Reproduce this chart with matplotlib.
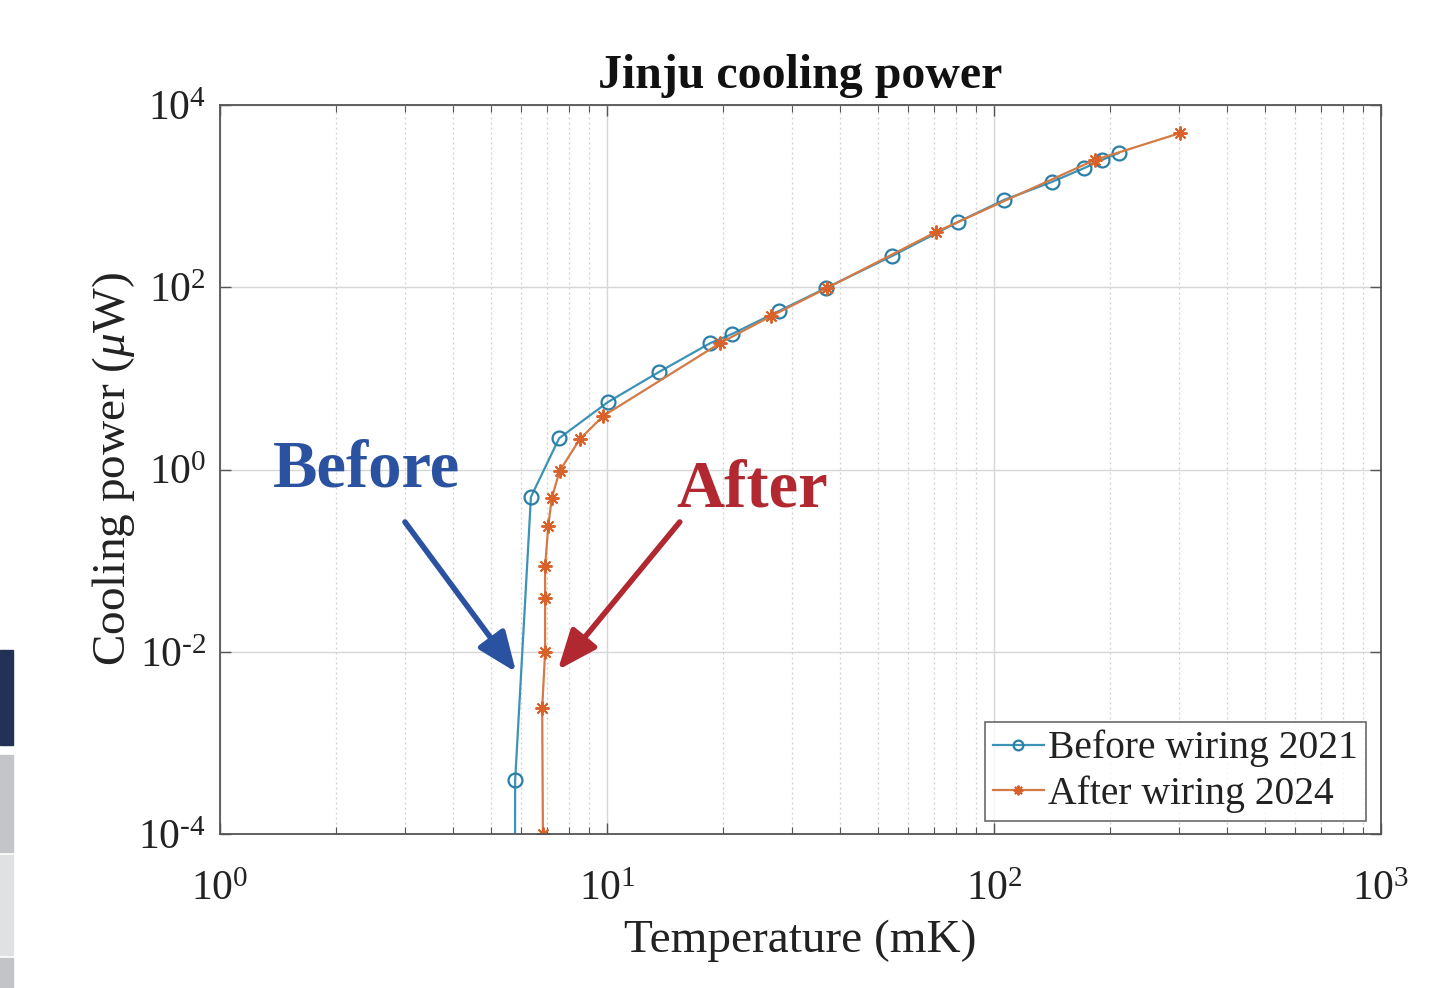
import matplotlib
matplotlib.use("Agg")
import matplotlib.pyplot as plt
from matplotlib.patches import Rectangle
from matplotlib.ticker import LogLocator, NullFormatter, NullLocator, FuncFormatter, FixedLocator
import numpy as np

plt.rcParams['font.family'] = ['Liberation Serif', 'DejaVu Serif']
plt.rcParams['mathtext.fontset'] = 'custom'
plt.rcParams['mathtext.rm'] = 'Liberation Serif'
plt.rcParams['mathtext.it'] = 'Liberation Serif:italic'
plt.rcParams['mathtext.bf'] = 'Liberation Serif:bold'
plt.rcParams['axes.unicode_minus'] = False

# Data (Temperature in mK, cooling power in uW)
before_T = [5.78, 5.79, 6.36, 7.52, 10.06, 13.6, 18.5, 21.0, 27.8, 36.8, 54.5, 80.7, 106, 141, 171, 190, 210]
before_P = [1e-5, 3.9e-4, 0.50, 2.2, 5.5, 11.7, 24.4, 30.6, 54.8, 98, 220, 520, 906, 1430, 2030, 2490, 2970]
after_T = [6.83, 6.80, 6.92, 6.92, 6.92, 7.05, 7.20, 7.54, 8.51, 9.77, 19.6, 26.5, 37.0, 70.8, 182, 303]
after_P = [1e-4, 2.4e-3, 0.01, 0.0387, 0.087, 0.239, 0.485, 0.96, 2.16, 3.86, 24.4, 48, 98, 404, 2490, 4930]

x_ticks = [1, 10, 100, 1000]
y_ticks = [1e-4, 1e-2, 1, 1e2, 1e4]

before_label = "Before wiring 2021"
after_label = "After wiring 2024"
title = "Jinju cooling power"
xlabel = "Temperature (mK)"
ylabel = r"Cooling power ($\mu$W)"

c_before = '#3c93b6'
c_after = '#d47a45'


def pow_fmt(v, pos):
    e = int(round(np.log10(v)))
    if e < 0:
        return r'$\mathdefault{10^{\text{-}%d}}$' % (-e)
    return r'$\mathdefault{10^{%d}}$' % e


fig = plt.figure(figsize=(14.39, 9.88), dpi=100)
ax = fig.add_axes([220/1439, 1-834/988, (1381-220)/1439, (834-105)/988])

ax.plot(before_T, before_P, color=c_before, lw=1.6, marker='o', ms=10,
        mfc='none', mec='#2b7fa6', mew=1.6, label=before_label)
ax.plot(after_T, after_P, color=c_after, lw=1.6, marker=(8, 2, 0), ms=10,
        mec='#d9622b', mew=1.4, label=after_label)

ax.set_xscale('log')
ax.set_yscale('log')
ax.set_xlim(1, 1000)
ax.set_ylim(1e-4, 1e4)
ax.xaxis.set_major_locator(FixedLocator(x_ticks))
ax.yaxis.set_major_locator(FixedLocator(y_ticks))
ax.xaxis.set_minor_locator(LogLocator(base=10, subs=range(2, 10), numticks=20))
ax.yaxis.set_minor_locator(NullLocator())
ax.xaxis.set_minor_formatter(NullFormatter())
ax.xaxis.set_major_formatter(FuncFormatter(pow_fmt))
ax.yaxis.set_major_formatter(FuncFormatter(pow_fmt))

ax.grid(True, which='major', color='#d6d6d6', lw=1.0, ls='-')
ax.grid(True, which='minor', axis='x', color='#cfcfcf', lw=0.9, ls=(0, (1.5, 2.5)))
ax.set_axisbelow(True)

ax.tick_params(which='both', direction='in', top=True, right=True, colors='#555555',
               labelcolor='#222222')
ax.tick_params(which='major', length=8, width=1, labelsize=30)
ax.tick_params(which='minor', length=5, width=0.8)
ax.tick_params(axis='x', which='major', pad=26)
ax.tick_params(axis='y', which='major', pad=10)
for s in ax.spines.values():
    s.set_color('#555555')
    s.set_linewidth(1.3)

ax.set_xlabel(xlabel, fontsize=34, color='#222222', labelpad=8)
ax.set_ylabel(ylabel, fontsize=34, color='#222222', labelpad=1)
ax.set_title(title, fontsize=34.5, fontweight='bold', color='#111111', pad=12)

leg = ax.legend(loc='lower right', bbox_to_anchor=(0.987, 0.018), fontsize=28.5,
                frameon=True, fancybox=False, handlelength=1.3, handletextpad=0.1,
                borderpad=0.2, labelspacing=0.2, borderaxespad=0)
leg.get_frame().set_edgecolor('#444444')
leg.get_frame().set_linewidth(1.2)
for t in leg.get_texts():
    t.set_color('#222222')
for h in leg.legend_handles:
    h.set_markersize(7)

c_b = '#2a52a0'
c_a = '#b22830'
ax.text(0.1266, 0.499, "Before", transform=ax.transAxes, fontsize=48, fontweight='bold',
        color=c_b, ha='center', va='center')
ax.text(0.458, 0.472, "After", transform=ax.transAxes, fontsize=48, fontweight='bold',
        color=c_a, ha='center', va='center')
ax.annotate('', xy=(0.255, 0.222), xytext=(0.1593, 0.428), xycoords='axes fraction',
            arrowprops=dict(arrowstyle='-|>,head_length=1.1,head_width=0.45', lw=4,
                            color=c_b, mutation_scale=22, shrinkA=0, shrinkB=0))
ax.annotate('', xy=(0.291, 0.225), xytext=(0.396, 0.428), xycoords='axes fraction',
            arrowprops=dict(arrowstyle='-|>,head_length=1.1,head_width=0.45', lw=4,
                            color=c_a, mutation_scale=22, shrinkA=0, shrinkB=0))

# side decoration blocks from the screenshot
for (y0, y1, col) in [(650, 745, '#233254'), (755, 852, '#c4c5c9'),
                      (855, 955, '#e0e1e3'), (958, 988, '#c3c4c8')]:
    fig.patches.append(Rectangle((0, 1-y1/988), 13/1439, (y1-y0)/988,
                                 transform=fig.transFigure, color=col, zorder=0))

fig.savefig('out.png', dpi=100)
